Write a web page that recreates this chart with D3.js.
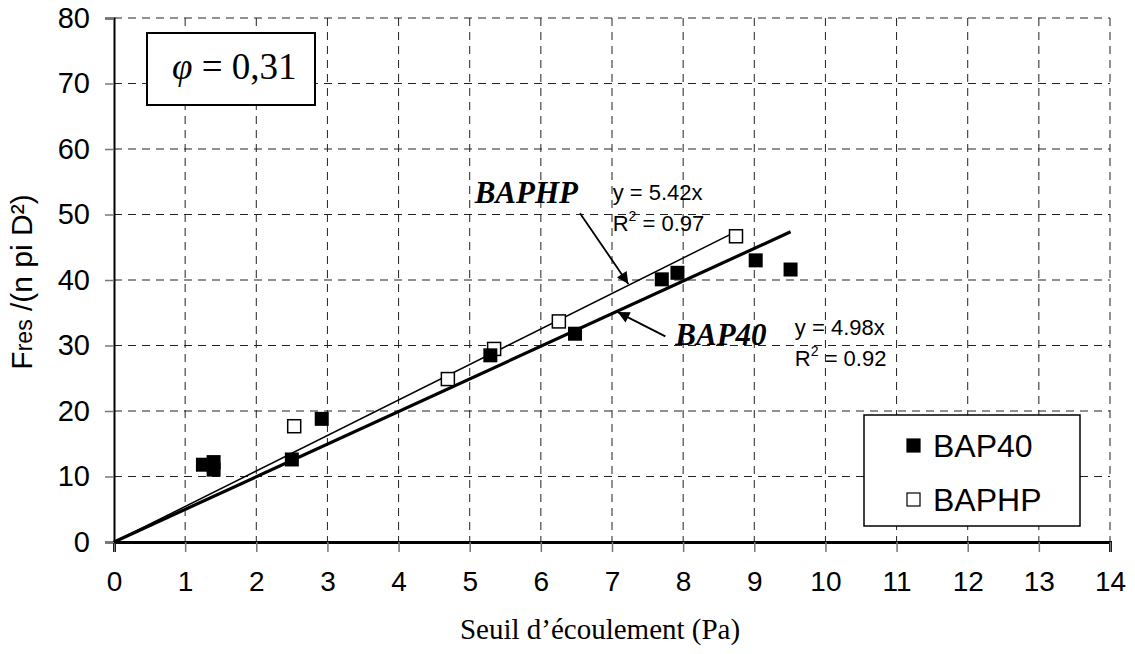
<!DOCTYPE html>
<html>
<head>
<meta charset="utf-8">
<script src="https://cdn.jsdelivr.net/npm/d3@7"></script>
<style>
  body { margin: 0; background: #fff; }
  svg { display: block; }
</style>
</head>
<body>
<svg id="chart" width="1135" height="654"></svg>
<script>
// data
const bap40X = [1.25, 1.40, 1.40, 2.50, 2.92, 5.29, 6.48, 7.70, 7.92, 9.02, 9.51];
const bap40Y = [11.8, 12.2, 11.05, 12.6, 18.8, 28.5, 31.8, 40.1, 41.1, 43.0, 41.6];
const baphpX = [2.54, 4.70, 5.35, 6.26, 8.75];
const baphpY = [17.6, 24.8, 29.4, 33.6, 46.6];
const slopes = { BAP40: 4.98, BAPHP: 5.42 };
const r2 = { BAP40: "0.92", BAPHP: "0.97" };
const xTicks = d3.range(0, 15, 1);
const yTicks = d3.range(0, 90, 10);

const svg = d3.select("#chart");
const sans = "'Liberation Sans', Arial, sans-serif";
const serif = "'Liberation Serif', 'Times New Roman', serif";

const x = d3.scaleLinear().domain([0, 14]).range([114, 1110]);
const y = d3.scaleLinear().domain([0, 80]).range([542, 18]);

// grid
svg.append("g")
  .selectAll("line.vg")
  .data(xTicks.slice(1))
  .join("line")
  .attr("x1", d => x(d)).attr("x2", d => x(d))
  .attr("y1", y(80)).attr("y2", y(0))
  .attr("stroke", "#222").attr("stroke-width", 1)
  .attr("stroke-dasharray", "8,6");

svg.append("g")
  .selectAll("line.hg")
  .data(yTicks.slice(1))
  .join("line")
  .attr("x1", x(0)).attr("x2", x(14))
  .attr("y1", d => y(d)).attr("y2", d => y(d))
  .attr("stroke", "#222").attr("stroke-width", 1)
  .attr("stroke-dasharray", "8,6");

// axes
const xAxis = svg.append("g")
  .attr("transform", `translate(0,${y(0)})`)
  .call(d3.axisBottom(x).tickValues(xTicks).tickSize(10).tickPadding(19).tickFormat(d3.format("d")));
xAxis.select(".domain").attr("stroke", "#000").attr("stroke-width", 3);
xAxis.selectAll(".tick line").attr("stroke", "#777").attr("stroke-width", 1.5);
xAxis.selectAll(".tick text").attr("font-family", sans).attr("font-size", 28).attr("fill", "#000");

const yAxis = svg.append("g")
  .attr("transform", `translate(${x(0)},0)`)
  .call(d3.axisLeft(y).tickValues(yTicks).tickSize(9).tickPadding(15));
yAxis.select(".domain").attr("stroke", "#000").attr("stroke-width", 2);
yAxis.selectAll(".tick line").attr("stroke", "#777").attr("stroke-width", 1.5);
yAxis.selectAll(".tick text").attr("font-family", sans).attr("font-size", 29).attr("fill", "#000");

// axis titles
svg.append("text")
  .attr("x", 600).attr("y", 639)
  .attr("text-anchor", "middle")
  .attr("font-family", serif).attr("font-size", 29)
  .text("Seuil d\u2019\u00e9coulement (Pa)");

const yt = svg.append("text")
  .attr("transform", "translate(32,282) rotate(-90)")
  .attr("text-anchor", "middle")
  .attr("font-family", sans).attr("font-size", 30);
yt.append("tspan").text("F");
yt.append("tspan").attr("font-size", 23).text("res");
yt.append("tspan").text(" /(n pi D\u00b2)");

// trend lines
const line = d3.line().x(d => x(d[0])).y(d => y(d[1]));
svg.append("path")
  .datum([[0, 0], [d3.max(baphpX), slopes.BAPHP * d3.max(baphpX)]])
  .attr("d", line).attr("fill", "none")
  .attr("stroke", "#000").attr("stroke-width", 1.5);
svg.append("path")
  .datum([[0, 0], [d3.max(bap40X), slopes.BAP40 * d3.max(bap40X)]])
  .attr("d", line).attr("fill", "none")
  .attr("stroke", "#000").attr("stroke-width", 3.2);

// points
const ms = 14;
svg.append("g")
  .selectAll("rect")
  .data(baphpX.map((v, i) => [v, baphpY[i]]))
  .join("rect")
  .attr("x", d => x(d[0]) - ms / 2).attr("y", d => y(d[1]) - ms / 2)
  .attr("width", ms - 1).attr("height", ms - 1)
  .attr("fill", "#fff").attr("stroke", "#000").attr("stroke-width", 1.5);
svg.append("g")
  .selectAll("rect")
  .data(bap40X.map((v, i) => [v, bap40Y[i]]))
  .join("rect")
  .attr("x", d => x(d[0]) - ms / 2).attr("y", d => y(d[1]) - ms / 2)
  .attr("width", ms).attr("height", ms)
  .attr("fill", "#000");

// arrows
svg.append("defs").append("marker")
  .attr("id", "ah").attr("viewBox", "0 0 10 10")
  .attr("refX", 10).attr("refY", 5)
  .attr("markerWidth", 9).attr("markerHeight", 6.5)
  .attr("markerUnits", "strokeWidth")
  .attr("orient", "auto")
  .append("path").attr("d", "M0,0 L10,5 L0,10 z").attr("fill", "#000");

const arrows = [
  { from: [6.55, 50.2], to: [7.23, 39.4] },
  { from: [7.75, 31.4], to: [7.08, 35.1] }
];
svg.append("g")
  .selectAll("line")
  .data(arrows)
  .join("line")
  .attr("x1", d => x(d.from[0])).attr("y1", d => y(d.from[1]))
  .attr("x2", d => x(d.to[0])).attr("y2", d => y(d.to[1]))
  .attr("stroke", "#000").attr("stroke-width", 1.8)
  .attr("marker-end", "url(#ah)");

// series labels
const labels = [
  { name: "BAPHP", at: [5.07, 51.7] },
  { name: "BAP40", at: [7.89, 30.1] }
];
svg.append("g")
  .selectAll("text")
  .data(labels)
  .join("text")
  .attr("x", d => x(d.at[0])).attr("y", d => y(d.at[1]))
  .attr("font-family", serif).attr("font-size", 31)
  .attr("font-style", "italic").attr("font-weight", "bold")
  .text(d => d.name);

// equations
const eqs = [
  { name: "BAPHP", at: [7.01, 52.2] },
  { name: "BAP40", at: [9.57, 31.6] }
];
eqs.forEach(e => {
  const g = svg.append("g").attr("font-family", sans).attr("font-size", 22);
  g.append("text")
    .attr("x", x(e.at[0])).attr("y", y(e.at[1]))
    .text(`y = ${slopes[e.name].toFixed(2)}x`);
  const t = g.append("text")
    .attr("x", x(e.at[0])).attr("y", y(e.at[1]) + 31);
  t.append("tspan").text("R");
  t.append("tspan").attr("font-size", 14).attr("dy", -10).text("2");
  t.append("tspan").attr("dy", 10).text(` = ${r2[e.name]}`);
});

// phi box
svg.append("rect")
  .attr("x", 147).attr("y", 33).attr("width", 168).attr("height", 72)
  .attr("fill", "#fff").attr("stroke", "#000").attr("stroke-width", 2);
const phi = svg.append("text")
  .attr("x", 172).attr("y", 79)
  .attr("font-family", serif).attr("font-size", 37);
phi.append("tspan").attr("font-style", "italic").text("\u03c6");
phi.append("tspan").text(" = 0,31");

// legend
const legend = svg.append("g");
legend.append("rect")
  .attr("x", 864).attr("y", 415).attr("width", 216).attr("height", 111)
  .attr("fill", "#fff").attr("stroke", "#000").attr("stroke-width", 1.5);
const legItems = [
  { name: "BAP40", fill: "#000", cy: 446 },
  { name: "BAPHP", fill: "#fff", cy: 500 }
];
legItems.forEach(d => {
  legend.append("rect")
    .attr("x", 907).attr("y", d.cy - 7).attr("width", 13).attr("height", 13)
    .attr("fill", d.fill).attr("stroke", "#000").attr("stroke-width", 1.2);
  legend.append("text")
    .attr("x", 933).attr("y", d.cy + 11)
    .attr("font-family", sans).attr("font-size", 32)
    .text(d.name);
});
</script>
</body>
</html>
